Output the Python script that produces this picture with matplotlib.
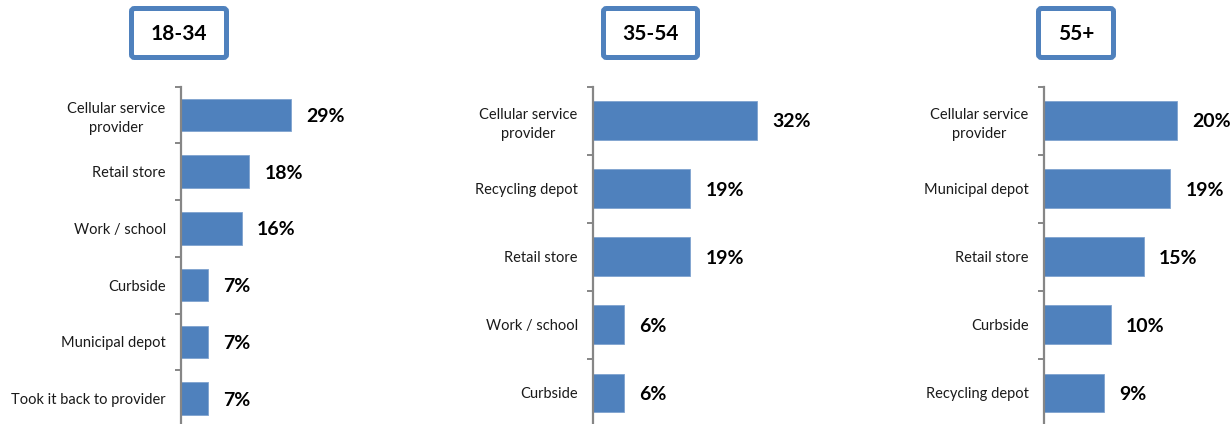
import matplotlib
matplotlib.use("Agg")
import matplotlib.pyplot as plt
from matplotlib.patches import FancyBboxPatch
from matplotlib.ticker import FixedLocator

plt.rcParams['font.family'] = ['Lato', 'DejaVu Sans']

# Age-group panels: categories and shares (%)
groups = ["18-34", "35-54", "55+"]

cats_18_34 = ["Cellular service\nprovider", "Retail store", "Work / school",
              "Curbside", "Municipal depot", "Took it back to provider"]
vals_18_34 = [29, 18, 16, 7, 7, 7]

cats_35_54 = ["Cellular service\nprovider", "Recycling depot", "Retail store",
              "Work / school", "Curbside"]
vals_35_54 = [32, 19, 19, 6, 6]

cats_55 = ["Cellular service\nprovider", "Municipal depot", "Retail store",
           "Curbside", "Recycling depot"]
vals_55 = [20, 19, 15, 10, 9]

W, H = 1232, 424
fig = plt.figure(figsize=(W / 100, H / 100), dpi=100)
fig.patch.set_facecolor("white")

BAR = "#4F81BD"
AXIS = "#868686"

# (axis left px, axis width px, px per percentage point, title box px left/right)
layout = [
    (181, 180, 3.8, (129, 229)),
    (593, 200, 5.12, (601, 700)),
    (1044, 186, 6.65, (1036, 1116)),
]
panels = [(cats_18_34, vals_18_34), (cats_35_54, vals_35_54), (cats_55, vals_55)]

# overlay axes in pixel coordinates for the title boxes
ov = fig.add_axes([0, 0, 1, 1], zorder=3)
ov.set_xlim(0, W)
ov.set_ylim(H, 0)
ov.axis("off")
ov.patch.set_alpha(0)

top_px, bot_px = 86.5, 427
for (cats, vals), (lx, wpx, scale, (bx0, bx1)), title in zip(panels, layout, groups):
    ax = fig.add_axes([lx / W, 1 - bot_px / H, wpx / W, (bot_px - top_px) / H])
    ax.set_facecolor("none")
    n = len(cats)
    y = list(range(n))
    ax.barh(y, vals, height=0.57, color=BAR, edgecolor="#7FA3CF", linewidth=0.6, zorder=2)
    ax.set_xlim(0, wpx / scale)
    ax.set_ylim(n - 0.5, -0.5)
    for s in ("top", "right", "bottom"):
        ax.spines[s].set_visible(False)
    ax.spines["left"].set_color(AXIS)
    ax.spines["left"].set_linewidth(1.6)
    ax.set_xticks([])
    ax.set_yticks(y)
    ax.set_yticklabels(cats, fontsize=10.5, color="#1a1a1a",
                       multialignment="center", linespacing=1.45)
    ax.tick_params(axis="y", which="major", length=0, pad=11)
    ax.yaxis.set_minor_locator(FixedLocator([i - 0.5 for i in range(n + 1)]))
    ax.tick_params(axis="y", which="minor", length=4.5, width=1.4, color=AXIS)
    for yi, v in zip(y, vals):
        ax.annotate(f"{v}%", xy=(v, yi), xytext=(11, -1), textcoords="offset points",
                    ha="left", va="center", fontsize=14, fontweight="bold", color="black")

    # Title box above each panel
    inset = 2.5
    box = FancyBboxPatch((bx0 + inset, 6 + inset), (bx1 - bx0) - 2 * inset, 54 - 2 * inset,
                         boxstyle="round,pad=0,rounding_size=3",
                         facecolor="white", edgecolor=BAR, linewidth=3.6)
    ov.add_patch(box)
    ov.text((bx0 + bx1) / 2, 34, title, ha="center", va="center",
            fontsize=15, fontweight="bold", color="black")

fig.savefig("out.png", dpi=100, facecolor="white")
